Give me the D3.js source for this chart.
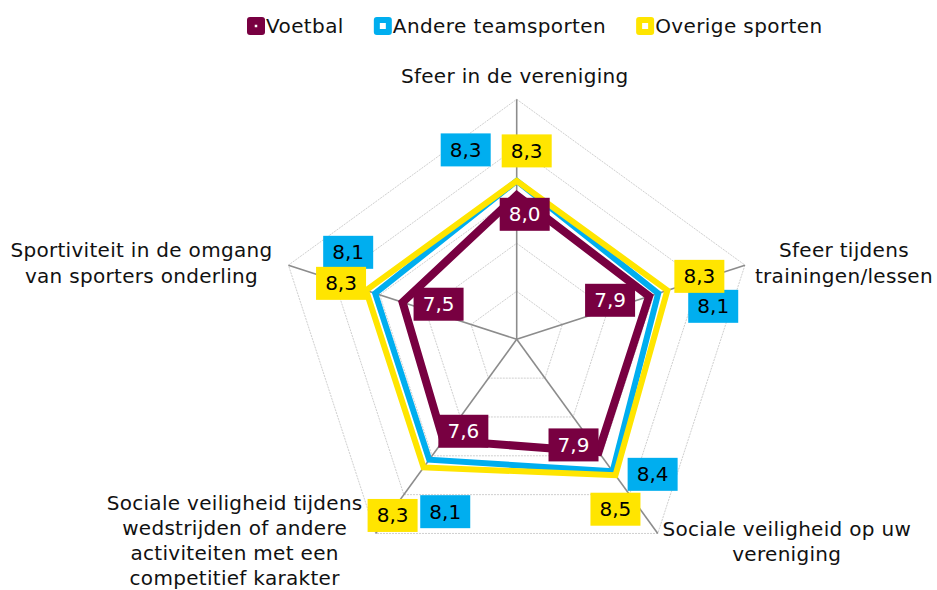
<!DOCTYPE html>
<html><head><meta charset="utf-8">
<script src="https://cdn.jsdelivr.net/npm/d3@7"></script>
<style>body{margin:0;background:#fff} svg{display:block;font-family:"DejaVu Sans",sans-serif}</style>
</head><body><svg id="c" width="937" height="590"></svg>
<script>
// ---- data ----
const categories = [
  ["Sfeer in de vereniging"],
  ["Sfeer tijdens","trainingen/lessen"],
  ["Sociale veiligheid op uw","vereniging"],
  ["Sociale veiligheid tijdens","wedstrijden of andere","activiteiten met een","competitief karakter"],
  ["Sportiviteit in de omgang","van sporters onderling"]
];
const seriesNames = ["Voetbal","Andere teamsporten","Overige sporten"];
const voetbal = [8.0,7.9,7.9,7.6,7.5];
const andere  = [8.3,8.1,8.4,8.1,8.1];
const overige = [8.3,8.3,8.5,8.3,8.3];
const gridTicks = [6,7,8,9,10];

// ---- layout / style ----
const colors = ["#780041","#00aeef","#ffe500"];
const labelText = ["#ffffff","#000000","#000000"];
const widths = [8,6,6];
const labelOffsets = [
  [[8,19],[-39,4],[-25,-7],[20,-9],[36,2]],
  [[-51,-31],[55,13],[40,3],[16,52],[-27,-41]],
  [[10,-30],[32,-14],[0,34],[-31,48],[-25,-7]]
];
const catOffsets = [[-2,-23],[99,-2],[129,8],[-141,7],[-147,-2]];

const svg = d3.select("#c");
const cx = 516.7, cy = 339.3, R = 240;
const r = d3.scaleLinear().domain([5,10]).range([0,R]);
const ang = d3.scalePoint().domain(d3.range(categories.length)).range([0, 2*Math.PI*(categories.length-1)/categories.length]);
const pt = (i,v) => [cx + r(v)*Math.sin(ang(i)), cy - r(v)*Math.cos(ang(i))];

const g = svg.append("g");
// grid rings
gridTicks.forEach(t => {
  g.append("path")
    .attr("d", d3.line()(categories.map((c,i)=>pt(i,t))) + "Z")
    .attr("fill","none").attr("stroke","#cfcfcf").attr("stroke-width",1)
    .attr("stroke-dasharray","2,1");
});
// axes
categories.forEach((c,i) => {
  const p = pt(i,10);
  g.append("line").attr("x1",cx).attr("y1",cy).attr("x2",p[0]).attr("y2",p[1])
    .attr("stroke","#8c8c8c").attr("stroke-width",1.6);
});
// series
const allSeries = [voetbal, andere, overige];
allSeries.forEach((s,k) => {
  g.append("path")
    .attr("d", d3.line()(s.map((v,i)=>pt(i,v))) + "Z")
    .attr("fill","none").attr("stroke",colors[k]).attr("stroke-width",widths[k])
    .attr("stroke-linejoin","miter");
});
// data labels
const fmt = v => d3.format(".1f")(v).replace(".",",");
allSeries.forEach((s,k) => {
  s.forEach((v,i) => {
    const p = pt(i,v);
    const x = p[0]+labelOffsets[k][i][0], y = p[1]+labelOffsets[k][i][1];
    g.append("rect").attr("x",x-25).attr("y",y-16.5).attr("width",50).attr("height",33)
      .attr("fill",colors[k]);
    g.append("text").attr("x",x).attr("y",y).attr("text-anchor","middle")
      .attr("dominant-baseline","central").attr("font-size",20).attr("fill",labelText[k])
      .text(fmt(v));
  });
});
// category labels
categories.forEach((lines,i) => {
  const p = pt(i,10);
  const x = p[0]+catOffsets[i][0], y = p[1]+catOffsets[i][1];
  const lh = 25.3;
  const t = g.append("text").attr("text-anchor","middle").attr("font-size",20)
    .attr("letter-spacing",0.3).attr("fill","#111");
  lines.forEach((ln,j) => {
    t.append("tspan").attr("x",x).attr("y", y + (j-(lines.length-1)/2)*lh)
      .attr("dominant-baseline","central").text(ln);
  });
});
// legend
let lx = 247;
const ly = 26;
seriesNames.forEach((n,k) => {
  const lg = svg.append("g");
  lg.append("rect").attr("x",lx).attr("y",ly-9).attr("width",18).attr("height",18)
    .attr("rx",3).attr("fill",colors[k]);
  const iw = k===0 ? 2.5 : 6;
  lg.append("rect").attr("x",lx+9-iw/2).attr("y",ly-iw/2).attr("width",iw).attr("height",iw).attr("fill","#fff");
  const t = lg.append("text").attr("x",lx+19).attr("y",ly).attr("dominant-baseline","central")
    .attr("font-size",20).attr("letter-spacing",0.4).attr("fill","#111").text(n);
  lx += 19 + t.node().getComputedTextLength() + 30;
});
</script></body></html>
